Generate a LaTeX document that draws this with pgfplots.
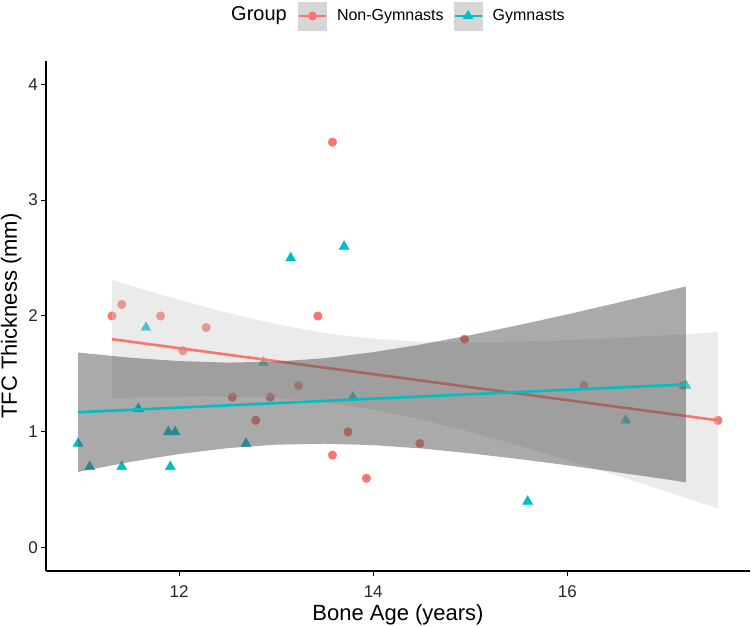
\documentclass[border=0pt]{standalone}
\usepackage{fontspec}
\setmainfont{Liberation Sans}
\usepackage{pgfplots}
\pgfplotsset{compat=1.18}

\definecolor{redc}{HTML}{F8766D}
\definecolor{cyanc}{HTML}{00BFC4}
\definecolor{bandlight}{HTML}{CCCCCC}
\definecolor{banddark}{HTML}{555555}
\definecolor{keybg}{HTML}{D6D6D6}

\begin{document}
\begin{tikzpicture}
\begin{axis}[
  scale only axis, width=704bp, height=510bp,
  xmin=10.63, xmax=17.88, ymin=-0.2, ymax=4.2,
  clip marker paths=true,
  axis x line*=bottom, axis y line*=left,
  axis line style={line width=1.1bp, black},
  xtick={12,14,16}, ytick={0,1,2,3,4},
  tick align=outside, major tick length=5bp,
  tick style={line width=1bp, black},
  /pgf/number format/assume math mode=true,
  ticklabel style={font=\fontsize{17bp}{20bp}\selectfont, text=black!85, inner sep=0pt},
  xticklabel style={anchor=base, yshift=-21bp},
  yticklabel style={anchor=east, xshift=-3bp},
  xlabel={Bone Age (years)},
  ylabel={TFC Thickness (mm)},
  label style={font=\fontsize{22bp}{26bp}\selectfont, inner sep=0pt},
  xlabel style={at={(axis description cs:0.5,-0.0961)}, anchor=base},
  ylabel style={at={(axis description cs:-0.0412,0.5)}, anchor=base},
  legend style={at={(axis description cs:0.34375,1.0882)}, anchor=west,
    draw=none, fill=none, inner sep=0pt, outer sep=0pt,
    column sep=0pt, nodes={inner sep=0pt},
    font=\fontsize{16bp}{19bp}\selectfont},
  legend columns=-1,
  legend image code/.code={%
    \fill[keybg, draw=none] (0bp,-14.5bp) rectangle (29bp,14.5bp);
    \path[draw=none, fill=none] (-10bp,0bp) rectangle (39bp,0bp);
    \draw[mark repeat=2,mark phase=2,#1] plot coordinates {(1bp,0bp) (14.5bp,0bp) (28bp,0bp)};
  },
]

% Non-Gymnasts: observations
\addplot[redc, only marks, mark=*, mark size=4.3bp, mark options={draw=redc, line width=0.4bp, fill=redc}, forget plot]
  coordinates {
  (11.31,2.0) (11.41,2.1) (11.81,2.0) (12.28,1.9) (12.04,1.7)
  (12.55,1.3) (12.94,1.3) (12.79,1.1) (13.23,1.4) (13.58,3.5)
  (13.43,2.0) (13.74,1.0) (13.58,0.8) (13.93,0.6) (14.48,0.9)
  (14.94,1.8) (16.17,1.4) (17.19,1.4) (17.55,1.1)
  };

% Gymnasts: observations
\addplot[cyanc, only marks, mark=triangle*, mark size=5.8bp, mark options={draw=cyanc, line width=0.4bp, fill=cyanc}, forget plot]
  coordinates {
  (10.96,0.9) (11.08,0.7) (11.41,0.7) (11.66,1.9) (11.58,1.2)
  (11.89,1.0) (11.96,1.0) (11.91,0.7) (12.69,0.9) (12.87,1.6)
  (13.15,2.5) (13.70,2.6) (13.79,1.3) (15.59,0.4) (16.60,1.1)
  (17.22,1.4)
  };

% Non-Gymnasts: 95% confidence band of the linear fit
\addplot[draw=none, fill=bandlight, fill opacity=0.4, forget plot]
  coordinates {
  (11.31,2.310) (11.8,2.187) (12.3,2.070) (12.8,1.966) (13.3,1.881)
  (13.63,1.838) (14.0,1.804) (14.5,1.778) (15.0,1.772) (15.5,1.777)
  (16.0,1.791) (16.5,1.810) (17.0,1.833) (17.55,1.860)
  (17.55,0.340) (17.0,0.491) (16.5,0.626) (16.0,0.757) (15.5,0.883)
  (15.0,1.000) (14.5,1.106) (14.0,1.192) (13.63,1.242) (13.3,1.273)
  (12.8,1.300) (12.3,1.308) (11.8,1.303) (11.31,1.290)
  } -- cycle;

% Non-Gymnasts: fitted line
\addplot[redc, line width=2.6bp, forget plot] coordinates {(11.31,1.80) (17.55,1.10)};

% Gymnasts: 95% confidence band of the linear fit
\addplot[draw=none, fill=banddark, fill opacity=0.5, forget plot]
  coordinates {
  (10.96,1.685) (11.5,1.640) (12.0,1.611) (12.5,1.598) (13.0,1.606)
  (13.5,1.636) (14.0,1.688) (14.5,1.755) (15.0,1.835) (15.5,1.922)
  (16.0,2.014) (16.5,2.111) (17.0,2.211) (17.22,2.255)
  (17.22,0.565) (17.0,0.593) (16.5,0.653) (16.0,0.712) (15.5,0.766)
  (15.0,0.815) (14.5,0.857) (14.0,0.886) (13.5,0.898) (13.0,0.890)
  (12.5,0.860) (12.0,0.809) (11.5,0.742) (10.96,0.655)
  } -- cycle;

% Gymnasts: fitted line
\addplot[cyanc, line width=2.6bp, forget plot] coordinates {(10.96,1.17) (17.22,1.41)};

\addlegendimage{redc, line width=2.6bp, mark=*, mark size=4.3bp, mark options={draw=redc, line width=0.4bp, fill=redc}}
\addlegendentry{Non-Gymnasts}
\addlegendimage{cyanc, line width=2.6bp, mark=triangle*, mark size=5.8bp, mark options={draw=cyanc, line width=0.4bp, fill=cyanc}}
\addlegendentry{Gymnasts}
\end{axis}
\node[anchor=west, inner sep=0pt, font=\fontsize{20bp}{24bp}\selectfont] at (185bp,555bp) {Group};
\pgfresetboundingbox
\useasboundingbox (-46bp,-55bp) rectangle (705bp,571bp);
\end{tikzpicture}
\end{document}
